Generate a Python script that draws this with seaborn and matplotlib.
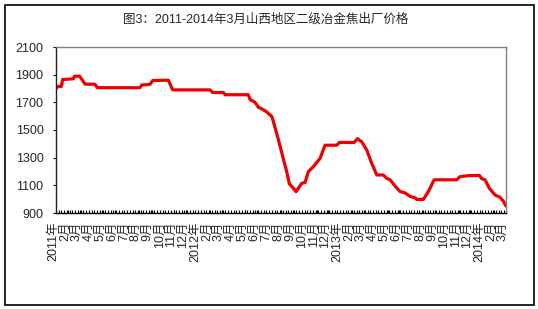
import numpy as np
import pandas as pd
import matplotlib
matplotlib.use("Agg")
import matplotlib.pyplot as plt
import matplotlib.patches as mpatches
from matplotlib.transforms import ScaledTranslation
import seaborn as sns

# ---- data (x in months from Jan 2011, price in yuan/t) ----
month_pos = [0.00, 0.15, 0.45, 0.56, 1.46, 1.55, 1.97, 2.15, 2.45, 3.29, 3.49,
             7.09, 7.24, 7.94, 8.17, 9.49, 9.70, 9.85, 13.00, 13.23, 14.13, 14.27,
             16.24, 16.39, 16.81, 17.09, 17.51, 17.80, 18.22, 18.36, 18.78, 19.20,
             19.48, 19.71, 20.05, 20.27, 20.55, 20.75, 21.03, 21.31, 21.73, 22.30,
             22.72, 23.71, 23.93, 25.17, 25.45, 25.82, 26.24, 26.66, 27.09, 27.64,
             27.93, 28.21, 28.63, 29.05, 29.48, 29.90, 30.32, 30.46, 31.02, 31.44,
             31.93, 33.84, 34.12, 34.82, 35.75, 35.95, 36.23, 36.60, 37.08, 37.50,
             37.78, 38.00]
price = [1800, 1815, 1815, 1865, 1870, 1888, 1890, 1870, 1832, 1830, 1806,
         1806, 1825, 1830, 1858, 1860, 1820, 1790, 1790, 1771, 1771, 1755,
         1755, 1720, 1700, 1665, 1646, 1630, 1598, 1560, 1430, 1290,
         1200, 1110, 1078, 1054, 1090, 1115, 1120, 1199, 1235, 1295,
         1390, 1390, 1410, 1410, 1437, 1415, 1355, 1259, 1175, 1175,
         1150, 1140, 1095, 1055, 1045, 1020, 1010, 998, 998, 1054,
         1140, 1140, 1163, 1170, 1172, 1148, 1140, 1078, 1030, 1013,
         985, 950]

tick_labels = (["2011年"] + [f"{m}月" for m in range(2, 13)] +
               ["2012年"] + [f"{m}月" for m in range(2, 13)] +
               ["2013年"] + [f"{m}月" for m in range(2, 13)] +
               ["2014年", "2月", "3月"])

df = pd.DataFrame({"month": month_pos, "price": price})

sns.set_theme(style="white")
plt.rcParams["font.family"] = ["Liberation Sans", "Noto Sans CJK SC", "DejaVu Sans"]

fig = plt.figure(figsize=(5.38, 3.09), dpi=100)
ax = fig.add_axes([56/538, 1 - 213/309, 450/538, 166/309])

sns.lineplot(data=df, x="month", y="price", ax=ax, color="#EE0000",
             linewidth=2.3, sort=False, estimator=None)

ax.set_xlim(0, 38.0)
ax.set_ylim(900, 2100)
ax.set_yticks(np.arange(900, 2101, 200))
ax.set_xticks(np.arange(len(tick_labels)))
ax.set_xticklabels(tick_labels, rotation=90, fontsize=9, va="top", ha="center")
ax.set_xticks(np.arange(0, 38.01, 12 / 52), minor=True)
ax.set_xlabel("")
ax.set_ylabel("")

ax.tick_params(axis="x", which="both", direction="in", length=2.5, width=0.8,
               color="black", pad=6, bottom=True)
ax.tick_params(axis="y", direction="out", length=2.5, width=0.8,
               color="black", pad=6.5, labelsize=9, left=True)

for side in ["top", "right"]:
    ax.spines[side].set_color("#808080")
    ax.spines[side].set_linewidth(1.0)
ax.spines["left"].set_color("#202020")
ax.spines["bottom"].set_color("black")
ax.spines["left"].set_linewidth(1.0)
ax.spines["bottom"].set_linewidth(1.0)

shift = ScaledTranslation(-3 / 100, 0, fig.dpi_scale_trans)
for lab in ax.get_xticklabels():
    lab.set_transform(lab.get_transform() + shift)

fig.text(266 / 538, 1 - 20 / 309, "图3：2011-2014年3月山西地区二级冶金焦出厂价格",
         ha="center", va="center", fontsize=9)

border = mpatches.Rectangle((5 / 538, 1 - 305 / 309), 529 / 538, 300 / 309,
                            transform=fig.transFigure, fill=False,
                            edgecolor="black", linewidth=1.2)
fig.patches.append(border)

fig.savefig("out.png", dpi=100)
